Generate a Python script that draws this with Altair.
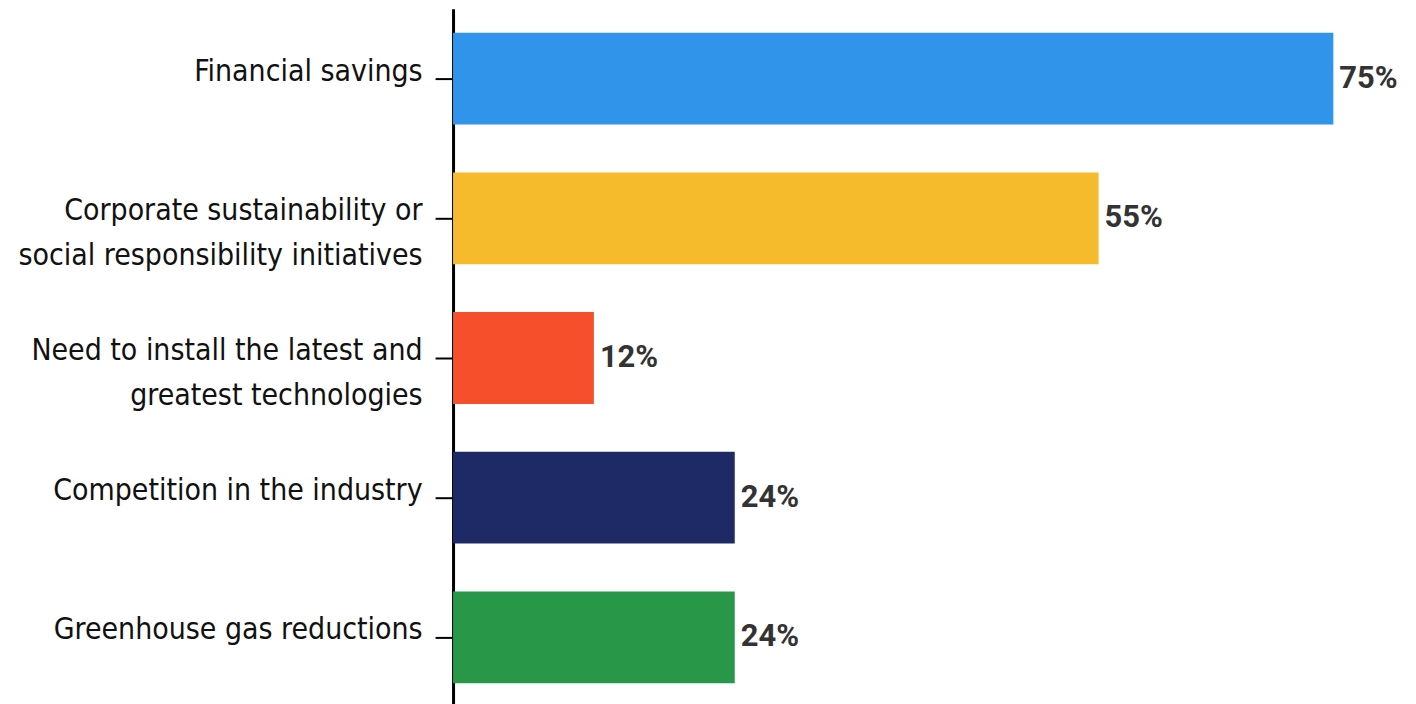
import altair as alt
import pandas as pd

categories = [
    "Financial savings",
    "Corporate sustainability or|social responsibility initiatives",
    "Need to install the latest and|greatest technologies",
    "Competition in the industry",
    "Greenhouse gas reductions",
]
values = [75, 55, 12, 24, 24]
colors = ["#3094EA", "#F6BB2C", "#F5502B", "#1E2A66", "#289748"]

df = pd.DataFrame({
    "cat": categories,
    "value": values,
    "label": [f"{v}%" for v in values],
})

base = alt.Chart(df).encode(
    y=alt.Y(
        "cat:N",
        sort=categories,
        title=None,
        scale=alt.Scale(paddingInner=0.343, paddingOuter=0.1715),
        axis=alt.Axis(
            domainColor="black",
            domainWidth=3,
            tickColor="black",
            tickWidth=2,
            tickSize=18,
            labelPadding=13,
            labelFont="DejaVu Sans Condensed, Roboto, sans-serif",
            labelFontSize=30,
            labelFontWeight="normal",
            labelColor="#111111",
            labelLimit=0,
            labelLineHeight=45,
            labelOffset=-7,
            labelExpr="split(datum.label, '|')",
        ),
    ),
    x=alt.X("value:Q", scale=alt.Scale(domain=[0, 80]), axis=None),
)

bars = base.mark_bar().encode(
    color=alt.Color("cat:N", scale=alt.Scale(domain=categories, range=colors), legend=None)
)

text = base.mark_text(
    align="left", baseline="middle", dx=6, font="Roboto", fontWeight="bold",
    fontSize=31, color="#333333"
).encode(text="label:N")

chart = (bars + text).properties(
    width=941,
    height=700,
    autosize=alt.AutoSizeParams(type="none"),
    padding={"left": 446, "top": 0, "right": 16, "bottom": 0},
).configure_view(stroke=None)

chart.save("out.html", embed_options={"renderer": "svg", "actions": False})
